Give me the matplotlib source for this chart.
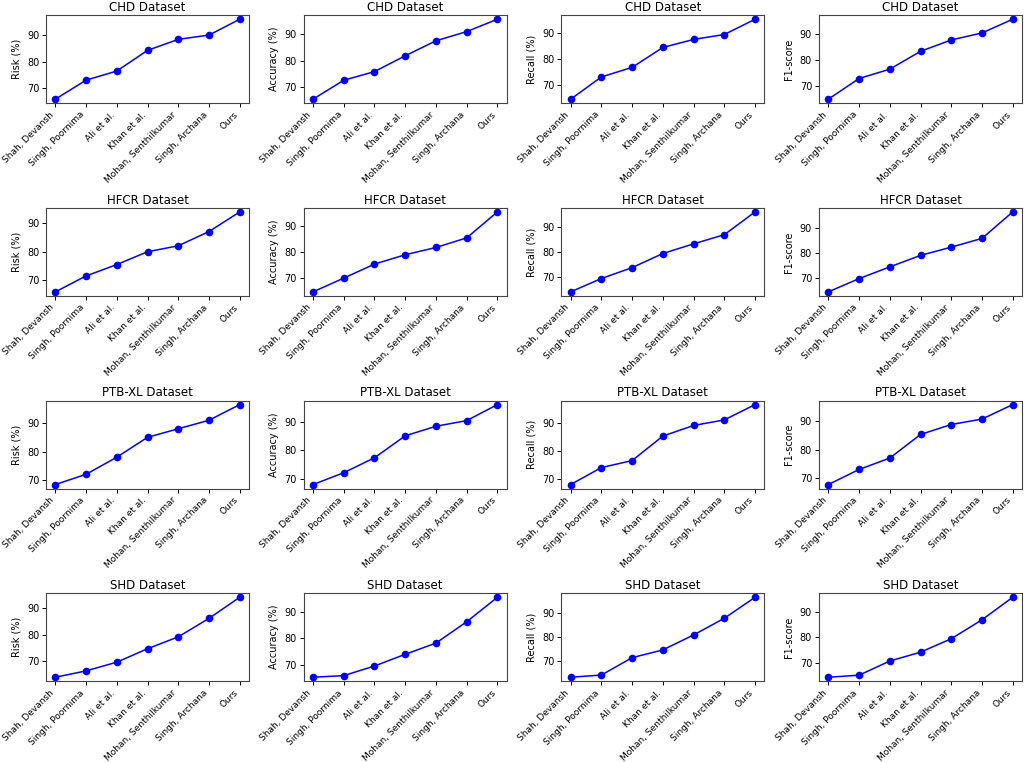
import matplotlib
matplotlib.use("Agg")
import matplotlib.pyplot as plt

methods = ["Shah, Devansh", "Singh, Poornima", "Ali et al.", "Khan et al.",
           "Mohan, Senthilkumar", "Singh, Archana", "Ours"]
datasets = ["CHD Dataset", "HFCR Dataset", "PTB-XL Dataset", "SHD Dataset"]
metrics = ["Risk (%)", "Accuracy (%)", "Recall (%)", "F1-score"]

chd_risk = [66.0, 73.1, 76.5, 84.2, 88.3, 89.9, 95.8]
chd_acc = [65.3, 72.5, 75.8, 81.8, 87.5, 91.0, 95.7]
chd_recall = [64.6, 73.2, 76.9, 84.6, 87.7, 89.6, 95.5]
chd_f1 = [64.7, 72.7, 76.3, 83.2, 87.6, 90.3, 95.6]

hfcr_risk = [65.9, 71.5, 75.5, 80.0, 82.1, 87.1, 94.0]
hfcr_acc = [64.6, 69.9, 75.3, 78.9, 81.7, 85.4, 95.4]
hfcr_recall = [63.8, 69.2, 73.6, 79.3, 83.2, 86.9, 96.1]
hfcr_f1 = [64.4, 69.7, 74.4, 79.0, 82.3, 85.8, 96.4]

ptb_risk = [68.5, 72.1, 78.1, 85.1, 88.1, 91.1, 96.6]
ptb_acc = [67.9, 72.1, 77.4, 85.2, 88.6, 90.6, 96.3]
ptb_recall = [68.0, 74.1, 76.6, 85.4, 89.2, 91.2, 96.7]
ptb_f1 = [67.8, 73.1, 77.1, 85.4, 88.9, 90.8, 95.9]

shd_risk = [63.9, 66.3, 69.6, 74.7, 79.2, 86.2, 94.2]
shd_acc = [65.4, 66.0, 69.6, 74.0, 78.2, 86.2, 95.4]
shd_recall = [63.4, 64.3, 71.5, 74.7, 80.9, 87.8, 96.5]
shd_f1 = [64.3, 65.1, 70.7, 74.2, 79.5, 87.0, 95.9]

values = [
    [chd_risk, chd_acc, chd_recall, chd_f1],
    [hfcr_risk, hfcr_acc, hfcr_recall, hfcr_f1],
    [ptb_risk, ptb_acc, ptb_recall, ptb_f1],
    [shd_risk, shd_acc, shd_recall, shd_f1],
]

plt.rcParams['font.family'] = ['DejaVu Sans']
fig, axes = plt.subplots(4, 4, figsize=(10.24, 7.62), dpi=100)
fig.subplots_adjust(left=0.045, right=0.998, top=0.980, bottom=0.106,
                    wspace=0.27, hspace=1.19)

for i, ds in enumerate(datasets):
    for j, m in enumerate(metrics):
        ax = axes[i][j]
        ax.plot(methods, values[i][j], color='blue', marker='o',
                markersize=4.5, linewidth=1.1)
        ax.set_title(ds, fontsize=8.5, pad=3)
        ax.set_ylabel(m, fontsize=7)
        ax.tick_params(axis='y', labelsize=7, length=3, width=0.7, pad=2)
        ax.tick_params(axis='x', labelsize=6.5, length=3, width=0.7, pad=2)
        ax.set_xticks(range(len(methods)))
        ax.set_xticklabels(methods, rotation=45, ha='right', rotation_mode='default')
        for s in ax.spines.values():
            s.set_linewidth(0.8)
            s.set_color('#444444')

fig.savefig("out.png", dpi=100)
